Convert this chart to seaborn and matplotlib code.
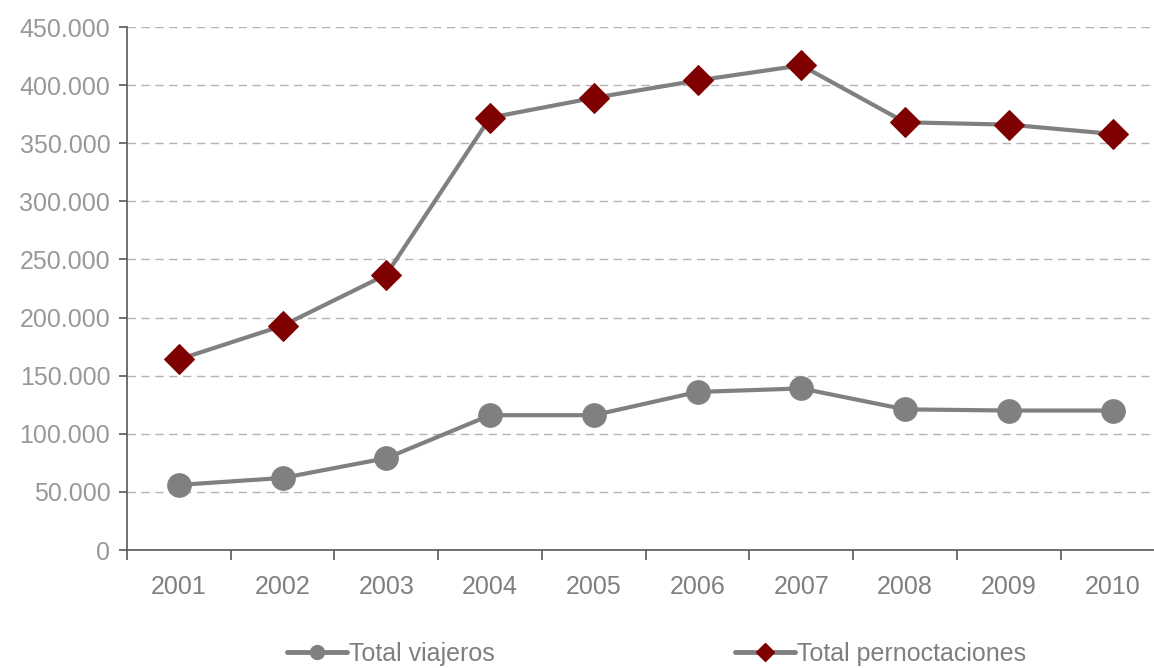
import matplotlib
matplotlib.use("Agg")
import matplotlib.pyplot as plt
import seaborn as sns
import pandas as pd
import numpy as np
from matplotlib.lines import Line2D
from matplotlib.ticker import FuncFormatter, FixedLocator

years = ["2001", "2002", "2003", "2004", "2005", "2006", "2007", "2008", "2009", "2010"]
viajeros = [56000, 62000, 79000, 116000, 116000, 136000, 139000, 121000, 120000, 120000]
pernoctaciones = [164000, 193000, 237000, 372000, 389000, 404000, 417000, 368000, 366000, 358000]
series_names = ["Total viajeros", "Total pernoctaciones"]

sns.set_theme(style="white")
plt.rcParams["font.family"] = ["Liberation Sans", "DejaVu Sans"]

fig = plt.figure(figsize=(11.54, 6.68), dpi=100)
ax = fig.add_axes([127/1154, 1-550/668, 1027/1154, 523/668])

pos = np.arange(len(years))
df = pd.DataFrame({"x": pos, "v": viajeros, "p": pernoctaciones})

line_color = "#808080"
sns.lineplot(data=df, x="x", y="v", ax=ax, color=line_color, linewidth=3,
             marker="o", markersize=17, markerfacecolor=line_color,
             markeredgecolor=line_color, zorder=3)
sns.lineplot(data=df, x="x", y="p", ax=ax, color=line_color, linewidth=3,
             marker="D", markersize=15, markerfacecolor="#7f0000",
             markeredgecolor="#7f0000", zorder=3)

ax.set_ylim(0, 450000)
ax.set_xlim(-0.5, 9.4)
ax.yaxis.set_major_locator(FixedLocator(np.arange(0, 450001, 50000)))
ax.yaxis.set_major_formatter(FuncFormatter(lambda v, p: f"{int(v):,}".replace(",", ".")))
ax.set_xticks(pos)
ax.set_xticklabels(years)
ax.set_xticks(np.arange(-0.5, 9.5, 1.0), minor=True)
ax.tick_params(axis="x", which="major", length=0, pad=18, labelsize=18, labelcolor="#7f7f7f")
ax.tick_params(axis="x", which="minor", length=7, width=1.2, color="#595959", direction="out", bottom=True)
ax.tick_params(axis="y", which="major", length=6, width=1.2, color="#595959", direction="out",
               left=True, pad=6, labelsize=18, labelcolor="#999999")

ax.grid(axis="y", linestyle=(0, (6, 4)), color="#b3b3b3", linewidth=1)
ax.grid(axis="x", visible=False)
ax.set_axisbelow(True)
for s in ["top", "right"]:
    ax.spines[s].set_visible(False)
for s in ["left", "bottom"]:
    ax.spines[s].set_color("#595959")
    ax.spines[s].set_linewidth(1.2)
ax.set_xlabel("")
ax.set_ylabel("")

handles = [
    Line2D([], [], color=line_color, linewidth=3.5, marker="o", markersize=10,
           markerfacecolor=line_color, markeredgecolor=line_color),
    Line2D([], [], color=line_color, linewidth=3.5, marker="D", markersize=9,
           markerfacecolor="#7f0000", markeredgecolor="#7f0000"),
]
leg = fig.legend(handles, series_names, loc="center", bbox_to_anchor=(0.569, 1-654/668),
                 ncol=2, frameon=False, fontsize=18, handlelength=2.4,
                 handletextpad=0.1, columnspacing=9.6)
for t in leg.get_texts():
    t.set_color("#7f7f7f")

fig.savefig("out.png", dpi=100)
